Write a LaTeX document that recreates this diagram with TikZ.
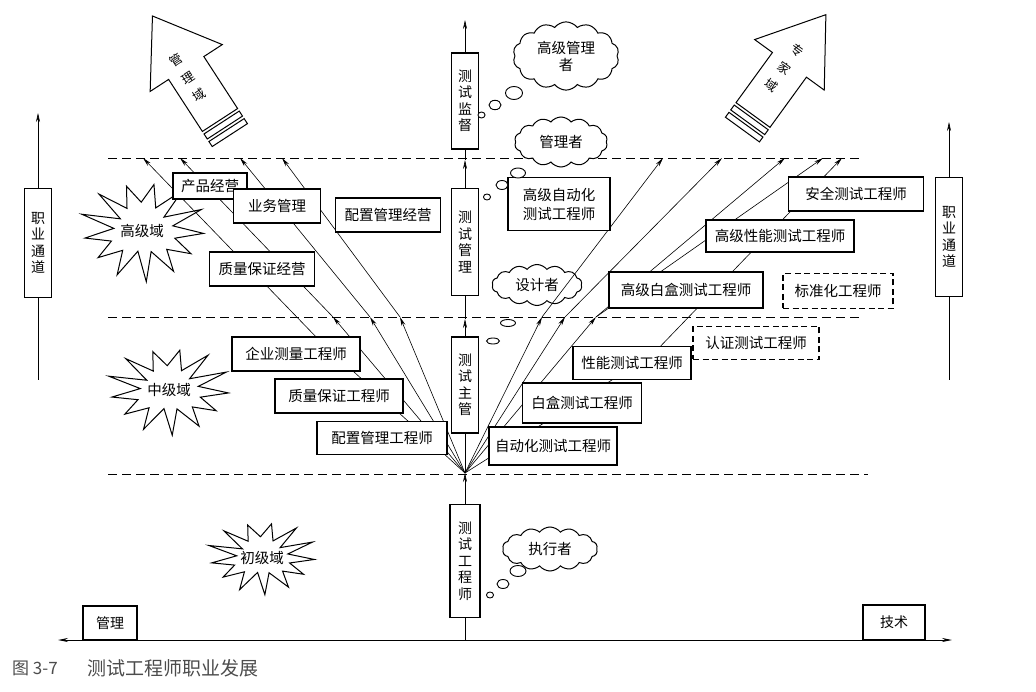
\documentclass[tikz,border=0pt]{standalone}
\usepackage{fontspec}
\newfontfamily\cjk{Noto Sans CJK SC}
\usetikzlibrary{arrows.meta,shapes.symbols}
\newcommand\jagstar[4]{%
  \draw[line width=1pt,fill=white] plot[samples at={0,...,25},variable=\k]
  ({#1+#3*(0.76+0.25*cos(\k*180)+0.07*sin(\k*137))*cos(\k*360/26+4)},
   {#2+#4*(0.76+0.25*cos(\k*180)+0.07*sin(\k*137))*sin(\k*360/26+4)}) -- cycle;}
\newcommand\bigarrow[3]{%
  \begin{scope}[shift={(#1,#2)},rotate=#3,line width=1pt]
    \draw[fill=white] (-21,0) -- (-21,-62) -- (-43,-62) -- (0,-124) -- (43,-62) -- (21,-62) -- (21,0) -- cycle;
    \draw (-21,3) rectangle (21,9);
    \draw (-21,12) rectangle (21,18);
  \end{scope}}
\begin{document}
\begin{tikzpicture}[x=1pt,y=-1pt,
  box/.style={draw,line width=1.1pt,fill=white,inner sep=0pt,font=\cjk\fontsize{14.5}{19}\selectfont,align=center},
  dbox/.style={box,dash pattern=on 6pt off 3.5pt},
  vbox/.style={box,font=\cjk\fontsize{14}{16.5}\selectfont},
  lbl/.style={inner sep=0pt,font=\cjk\fontsize{14.5}{17}\selectfont,align=center},
  achar/.style={inner sep=0pt,font=\cjk\fontsize{12.5}{14}\selectfont},
  ln/.style={line width=0.6pt},
  arr/.style={ln,-{Stealth[length=9pt,width=4pt]}},
  dl/.style={line width=0.8pt,dash pattern=on 9pt off 5pt},
  cl/.style={cloud,draw,line width=1pt,fill=white,cloud puffs=14,cloud puff arc=105,inner sep=0pt,font=\cjk\fontsize{14.5}{17}\selectfont,align=center},
  bub/.style={line width=0.9pt,fill=white},
]
\useasboundingbox (0,0) rectangle (1036,692);
% coordinates
\coordinate (O) at (465,473);
\coordinate (dl1a) at (108,158); \coordinate (dl1b) at (862,158);
\coordinate (dl2a) at (108,317); \coordinate (dl2b) at (862,317);
\coordinate (dl3a) at (108,474); \coordinate (dl3b) at (868,474);
\coordinate (lm1) at (333,317); \coordinate (lm2) at (370,317); \coordinate (lm3) at (400,317);
\coordinate (lA) at (320,341);
\coordinate (lu1) at (143,158); \coordinate (lu2) at (180,158); \coordinate (lu3) at (240,158); \coordinate (lu4) at (282,158);
\coordinate (rm1) at (542,317); \coordinate (rm2) at (565,317); \coordinate (rm3) at (596,317);
\coordinate (rA) at (653,354);
\coordinate (ru1) at (663,158); \coordinate (ru2) at (722,158); \coordinate (ru3) at (785,158); \coordinate (ru4) at (823,158); \coordinate (ru5) at (842,158);
\coordinate (top) at (465,20); \coordinate (m1) at (465,160); \coordinate (m2) at (465,319);
\coordinate (axL) at (58,640); \coordinate (axR) at (952,640); \coordinate (axC) at (465,640);
\coordinate (cLt) at (38,113); \coordinate (cLb) at (38,380);
\coordinate (cRt) at (949,122); \coordinate (cRb) at (949,380);

% dashed zone lines
\draw[dl] (dl1a) -- (dl1b);
\draw[dl] (dl2a) -- (dl2b);
\draw[dl] (dl3a) -- (dl3b);

% big arrows
\bigarrow{220}{120}{33}
\node[achar,rotate=33] (mg1) at (176.5,60.4) {管};
\node[achar,rotate=33] (mg2) at (188,78) {理};
\node[achar,rotate=33] (mg3) at (199.5,95.6) {域};
\bigarrow{753}{115}{-36}
\node[achar,rotate=-36] (ex1) at (796.9,50.2) {专};
\node[achar,rotate=-36] (ex2) at (784,68) {家};
\node[achar,rotate=-36] (ex3) at (771.1,85.8) {域};

% stars
\jagstar{143}{230}{60}{48}
\node[lbl] (hi) at (142,231) {高级域};
\jagstar{169}{390}{59}{42}
\node[lbl] (mid) at (169,390) {中级域};
\jagstar{262}{557}{52}{35}
\node[lbl] (lo) at (262,558) {初级域};

% clouds
\node[cl,aspect=1.35,minimum width=106,minimum height=68] (c1) at (566,56) {高级管理\\者};
\node[cl,aspect=1.6,minimum width=93,minimum height=50] (c2) at (561,142) {管理者};
\node[cl,aspect=2.1,minimum width=90,minimum height=41] (c3) at (537,285) {设计者};
\node[cl,aspect=2.05,minimum width=95,minimum height=44] (c4) at (550,549) {执行者};

% fan lines
\draw[arr] (O) -- (lm1);
\draw[arr] (O) -- (lm2);
\draw[arr] (O) -- (lm3);
\draw[arr] (O) -- (lA) -- (lu1);
\draw[arr] (lm1) -- (lu2);
\draw[arr] (lm2) -- (lu3);
\draw[arr] (lm3) -- (lu4);
\draw[arr] (O) -- (rm1);
\draw[arr] (O) -- (rm2);
\draw[arr] (O) -- (rm3);
\draw[arr] (O) -- (rA) -- (ru5);
\draw[arr] (rm1) -- (ru1);
\draw[arr] (rm2) -- (ru2);
\draw[arr] (rm3) -- (ru3);
\draw[arr] (rm3) -- (ru4);

% boxes
\node[box,minimum width=74,minimum height=26] (b1) at (210,186) {产品经营};
\node[box,minimum width=87,minimum height=34] (b2) at (277,206) {业务管理};
\node[box,minimum width=105,minimum height=34] (b3) at (388,215) {配置管理经营};
\node[box,minimum width=105,minimum height=34] (b4) at (262,269) {质量保证经营};
\node[box,minimum width=128,minimum height=34] (b5) at (296,354) {企业测量工程师};
\node[box,minimum width=128,minimum height=34] (b6) at (339,396) {质量保证工程师};
\node[box,minimum width=130,minimum height=33] (b7) at (382,438) {配置管理工程师};
\node[box,minimum width=128,minimum height=38] (b8) at (553,446) {自动化测试工程师};
\node[box,minimum width=119,minimum height=40] (b9) at (582,403) {白盒测试工程师};
\node[box,minimum width=118,minimum height=33] (b10) at (632,363) {性能测试工程师};
\node[dbox,minimum width=126,minimum height=33] (b11) at (756,343) {认证测试工程师};
\node[box,minimum width=154,minimum height=36] (b12) at (686,290) {高级白盒测试工程师};
\node[dbox,minimum width=110,minimum height=35] (b13) at (838,291) {标准化工程师};
\node[box,minimum width=148,minimum height=32] (b14) at (780,236) {高级性能测试工程师};
\node[box,minimum width=135,minimum height=34] (b15) at (856,194) {安全测试工程师};
\node[box,minimum width=102,minimum height=53] (b16) at (559,204) {高级自动化\\测试工程师};

% career channel boxes
\node[vbox,minimum width=27,minimum height=109] (chL) at (38,243) {职\\业\\通\\道};
\node[vbox,minimum width=27,minimum height=119] (chR) at (949,237) {职\\业\\通\\道};
\draw[arr] (chL.north) -- (cLt);
\draw[ln] (chL.south) -- (cLb);
\draw[arr] (chR.north) -- (cRt);
\draw[ln] (chR.south) -- (cRb);

% central column
\node[vbox,minimum width=27,minimum height=96] (sup) at (465,101) {测\\试\\监\\督};
\node[vbox,minimum width=27,minimum height=107] (mgr) at (465,242) {测\\试\\管\\理};
\node[vbox,minimum width=27,minimum height=96] (lead) at (465,385) {测\\试\\主\\管};
\node[vbox,minimum width=30,minimum height=113] (eng) at (465,561) {测\\试\\工\\程\\师};
\draw[arr] (sup.north) -- (top);
\draw[arr] (mgr.north) -- (m1);
\draw[ln] (m1) -- (sup.south);
\draw[arr] (lead.north) -- (m2);
\draw[ln] (m2) -- (mgr.south);
\draw[ln] (lead.south) -- (O);
\draw[arr] (eng.north) -- (O);
\draw[ln] (axC) -- (eng.south);

% thought bubbles
\draw[bub] (481.5,115) ellipse (3.5 and 3);
\draw[bub] (495,105) ellipse (6 and 4.7);
\draw[bub] (514,93) ellipse (8.5 and 6.5);
\draw[bub] (487,197) ellipse (3.5 and 3);
\draw[bub] (502,185) ellipse (6 and 4.5);
\draw[bub] (518,173) ellipse (7.5 and 5);
\draw[bub] (493,341) ellipse (6.5 and 3);
\draw[bub] (508,323) ellipse (7.5 and 3.5);
\draw[bub] (490,595) ellipse (3.5 and 3);
\draw[bub] (503,584) ellipse (6 and 4.5);
\draw[bub] (518,571) ellipse (8 and 5.5);

% bottom axis
\draw[line width=0.9pt,{Stealth[length=10pt,width=4pt]}-{Stealth[length=10pt,width=4pt]}] (axL) -- (axR);
\node[box,font=\cjk\fontsize{14}{17}\selectfont,minimum width=54,minimum height=34] (tm) at (110,623) {管理};
\node[box,font=\cjk\fontsize{14}{17}\selectfont,minimum width=62,minimum height=35] (tt) at (894,622.5) {技术};

% caption
\node[anchor=west,inner sep=0pt,text=black!70,font=\cjk\fontsize{17}{19}\selectfont] (cap1) at (12,668) {图 3-7};
\node[anchor=west,inner sep=0pt,text=black!70,font=\cjk\fontsize{19}{21}\selectfont] (cap2) at (87,668) {测试工程师职业发展};
\end{tikzpicture}
\end{document}
